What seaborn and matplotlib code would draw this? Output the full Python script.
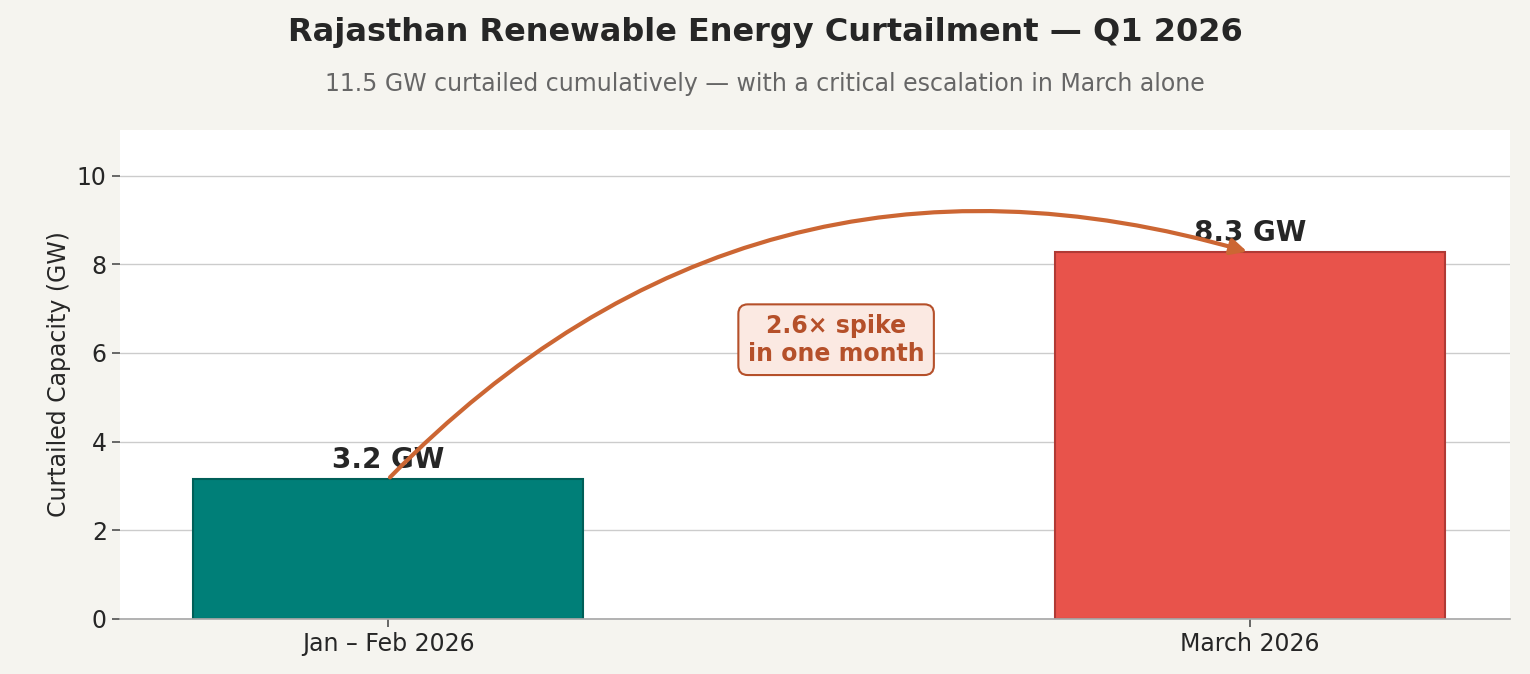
import matplotlib
matplotlib.use("Agg")
import matplotlib.pyplot as plt
import seaborn as sns
import pandas as pd

categories = ["Jan – Feb 2026", "March 2026"]
values = [3.15, 8.27]
labels = ["3.2 GW", "8.3 GW"]
colors = ["#007f78", "#e8534b"]
edges = ["#005f58", "#b03a35"]

sns.set_theme(style="whitegrid")
plt.rcParams['font.family'] = ['DejaVu Sans']

fig = plt.figure(figsize=(15.3, 6.74), dpi=100, facecolor="#f5f4ef")
ax = fig.add_axes([120/1530, 1-619/674, 1390/1530, 489/674])
ax.set_facecolor("white")
df = pd.DataFrame({"cat": categories, "val": values})
sns.barplot(data=df, x="cat", y="val", hue="cat", palette=colors, width=0.453, ax=ax, legend=False, saturation=1)
for p, e in zip(ax.patches, edges):
    p.set_edgecolor(e); p.set_linewidth(1.5)
ax.set_xlim(-0.311, 1.302)
ax.set_ylim(0, 11.03)
ax.set_yticks([0, 2, 4, 6, 8, 10])
ax.grid(axis="y", color="#cccccc", linewidth=1)
ax.grid(axis="x", visible=False)
for s in ["top", "right", "left"]:
    ax.spines[s].set_visible(False)
ax.spines["bottom"].set_color("#aaaaaa")
ax.tick_params(axis="both", labelsize=17, length=6, color="#555555", left=True, bottom=True)
ax.set_xlabel("")
ax.set_ylabel("Curtailed Capacity (GW)", fontsize=17)
for i, (v, l) in enumerate(zip(values, labels)):
    ax.text(i, v + 0.12, l, ha="center", va="bottom", fontsize=20, fontweight="bold")
ax.annotate("", xy=(1.0, 8.27), xytext=(0.0, 3.15),
            arrowprops=dict(arrowstyle="-|>,head_length=0.8,head_width=0.4", color="#cc6633", lw=3,
                            connectionstyle="arc3,rad=-0.3"))
ax.text(0.52, 6.3, "2.6× spike\nin one month", ha="center", va="center", fontsize=17,
        fontweight="bold", color="#b5502a",
        bbox=dict(boxstyle="round,pad=0.4", fc="#fbe9e2", ec="#b5502a", lw=1.5))
fig.text(0.5, 1-32/674, "Rajasthan Renewable Energy Curtailment — Q1 2026", ha="center", va="center",
         fontsize=23, fontweight="bold")
fig.text(0.5, 1-84/674, "11.5 GW curtailed cumulatively — with a critical escalation in March alone",
         ha="center", va="center", fontsize=17, color="#666666")
fig.savefig("out.png", dpi=100, facecolor=fig.get_facecolor())
